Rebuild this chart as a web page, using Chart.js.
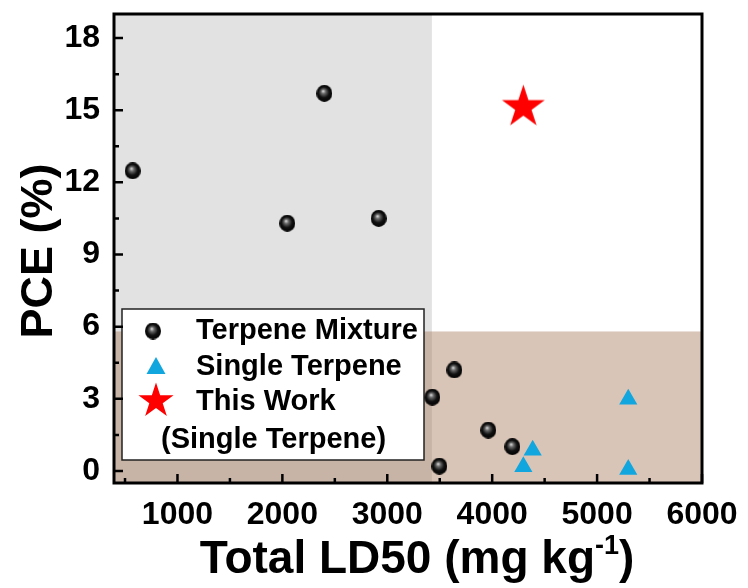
<!DOCTYPE html>
<html>
<head>
<meta charset="utf-8">
<script src="https://cdn.jsdelivr.net/npm/chart.js@4/dist/chart.umd.min.js"></script>
<style>
  body { margin: 0; background: #fff; }
  canvas { display: block; }
</style>
</head>
<body>
<canvas id="pceChart" width="748" height="588"></canvas>
<script>
// values
const mixtureLD50 = [573, 2047, 2400, 2918, 3429, 3639, 3496, 3963, 4192];
const mixturePCE = [12.48, 10.30, 15.70, 10.50, 3.07, 4.20, 0.20, 1.70, 1.01];
const singleLD50 = [5297, 5297, 4386, 4297];
const singlePCE = [2.98, 0.06, 0.86, 0.18];
const thisWorkLD50 = [4297];
const thisWorkPCE = [15.13];

const xTicks = [1000, 2000, 3000, 4000, 5000, 6000];
const yTicks = [0, 3, 6, 9, 12, 15, 18];
const xRange = [395, 6000];
const yRange = [-0.5, 19];

// shaded zones
const grayZoneMaxLD50 = 3425;
const brownZoneMaxPCE = 5.8;

const FONT = '"Liberation Sans", Arial, sans-serif';

// black shiny ball marker
function makeSphere(w, h) {
    const c = document.createElement("canvas");
    c.width = w; c.height = h;
    const g = c.getContext("2d");
    const grad = g.createRadialGradient(w * 0.42, h * 0.36, 0, w * 0.5, h * 0.5, w * 0.55);
    grad.addColorStop(0, "#e8e8e8");
    grad.addColorStop(0.25, "#6a6a6a");
    grad.addColorStop(0.6, "#111");
    grad.addColorStop(1, "#000");
    g.fillStyle = grad;
    g.beginPath();
    g.ellipse(w / 2, h / 2, w / 2, h / 2, 0, 0, Math.PI * 2);
    g.fill();
    return c;
}

function starPath(g, cx, cy, R) {
    const r = R * 0.382;
    g.beginPath();
    for (let i = 0; i < 10; i++) {
        const rad = (i % 2 === 0) ? R : r;
        const ang = -Math.PI / 2 + i * Math.PI / 5;
        const px = cx + rad * Math.cos(ang), py = cy + rad * Math.sin(ang);
        if (i === 0) g.moveTo(px, py); else g.lineTo(px, py);
    }
    g.closePath();
}

function makeStar(R) {
    const s = Math.ceil(R * 2 + 2);
    const c = document.createElement("canvas");
    c.width = s; c.height = s;
    const g = c.getContext("2d");
    g.fillStyle = "#ff0000";
    starPath(g, s / 2, s / 2, R);
    g.fill();
    return c;
}

const sphere = makeSphere(16, 17);
const bigStar = makeStar(22.5);
const TRI_COLOR = "#12a6df";

const toPoints = (xs, ys) => xs.map((v, i) => ({ x: v, y: ys[i] }));

// shaded background zones
const zonesPlugin = {
    id: "zones",
    beforeDatasetsDraw(chart) {
        const { ctx, chartArea: a, scales: { x, y } } = chart;
        ctx.save();
        ctx.fillStyle = "#e2e2e2";
        const gx = x.getPixelForValue(grayZoneMaxLD50);
        ctx.fillRect(a.left, a.top, gx - a.left, a.bottom - a.top);
        ctx.fillStyle = "rgba(163, 113, 79, 0.41)";
        const by = y.getPixelForValue(brownZoneMaxPCE);
        ctx.fillRect(a.left, by, a.right - a.left, a.bottom - by);
        ctx.restore();
    }
};

// frame, inward ticks, titles and legend box
const decorPlugin = {
    id: "decor",
    afterDraw(chart) {
        const { ctx, chartArea: a, scales: { x, y } } = chart;
        ctx.save();

        // legend
        ctx.fillStyle = "#fff";
        ctx.fillRect(122, 309, 302, 151);
        ctx.strokeStyle = "#222";
        ctx.lineWidth = 1.5;
        ctx.strokeRect(122, 309, 302, 151);
        ctx.drawImage(sphere, 153 - 8, 331 - 8.5);
        ctx.fillStyle = TRI_COLOR;
        ctx.beginPath();
        ctx.moveTo(156, 357);
        ctx.lineTo(165.5, 374);
        ctx.lineTo(146.5, 374);
        ctx.closePath();
        ctx.fill();
        ctx.fillStyle = "#ff0000";
        starPath(ctx, 156, 401, 18.5);
        ctx.fill();
        ctx.fillStyle = "#000";
        ctx.font = "bold 29px " + FONT;
        ctx.textBaseline = "middle";
        ctx.textAlign = "left";
        ctx.fillText("Terpene Mixture", 196, 331);
        ctx.fillText("Single Terpene", 196, 367);
        ctx.fillText("This Work", 196, 402);
        ctx.fillText("(Single Terpene)", 161, 440);

        // ticks pointing inward
        ctx.strokeStyle = "#000";
        ctx.lineWidth = 2.5;
        ctx.beginPath();
        yTicks.forEach(v => {
            const py = y.getPixelForValue(v);
            ctx.moveTo(a.left, py); ctx.lineTo(a.left + 9, py);
            const mv = v + 1.5;
            if (mv < yRange[1]) {
                const my = y.getPixelForValue(mv);
                ctx.moveTo(a.left, my); ctx.lineTo(a.left + 5, my);
            }
        });
        for (let v = 500; v <= 6000; v += 500) {
            const px = x.getPixelForValue(v);
            const len = v % 1000 === 0 ? 9 : 5;
            ctx.moveTo(px, a.bottom); ctx.lineTo(px, a.bottom - len);
        }
        ctx.stroke();

        // frame
        ctx.lineWidth = 3;
        ctx.strokeRect(a.left, a.top, a.right - a.left, a.bottom - a.top);

        // axis titles
        ctx.fillStyle = "#000";
        ctx.font = "bold 45px " + FONT;
        ctx.textAlign = "center";
        ctx.textBaseline = "middle";
        ctx.save();
        ctx.translate(40, 251);
        ctx.rotate(-Math.PI / 2);
        ctx.fillText("PCE (%)", 0, 0);
        ctx.restore();

        const t1 = "Total LD50 (mg kg", sup = "-1", t2 = ")";
        ctx.textBaseline = "alphabetic";
        ctx.textAlign = "left";
        ctx.font = "bold 46px " + FONT;
        const w1 = ctx.measureText(t1).width, w3 = ctx.measureText(t2).width;
        ctx.font = "bold 27px " + FONT;
        const w2 = ctx.measureText(sup).width;
        let sx = 417 - (w1 + w2 + w3) / 2;
        const base = 573;
        ctx.font = "bold 46px " + FONT;
        ctx.fillText(t1, sx, base);
        ctx.font = "bold 27px " + FONT;
        ctx.fillText(sup, sx + w1, base - 19);
        ctx.font = "bold 46px " + FONT;
        ctx.fillText(t2, sx + w1 + w2, base);

        ctx.restore();
    }
};

new Chart(document.getElementById("pceChart"), {
    type: "scatter",
    data: {
        datasets: [
            {
                label: "Terpene Mixture",
                data: toPoints(mixtureLD50, mixturePCE),
                pointStyle: sphere
            },
            {
                label: "Single Terpene",
                data: toPoints(singleLD50, singlePCE),
                pointStyle: "triangle",
                pointRadius: 10.5,
                backgroundColor: TRI_COLOR,
                borderWidth: 0
            },
            {
                label: "This Work",
                data: toPoints(thisWorkLD50, thisWorkPCE),
                pointStyle: bigStar
            }
        ]
    },
    options: {
        responsive: false,
        animation: false,
        layout: { padding: { top: 14, right: 46, left: 0, bottom: 0 } },
        plugins: {
            legend: { display: false },
            tooltip: { enabled: false }
        },
        scales: {
            x: {
                type: "linear",
                min: xRange[0],
                max: xRange[1],
                afterBuildTicks: axis => { axis.ticks = xTicks.map(v => ({ value: v })); },
                afterFit: axis => {
                    axis.height = 105;
                    axis.paddingLeft = 0;
                    axis.paddingRight = 0;
                },
                grid: { display: false, drawTicks: false },
                border: { display: false },
                ticks: {
                    color: "#000",
                    padding: 13,
                    maxRotation: 0,
                    callback: v => String(v),
                    font: { family: FONT, size: 32, weight: "bold" }
                }
            },
            y: {
                type: "linear",
                min: yRange[0],
                max: yRange[1],
                afterBuildTicks: axis => { axis.ticks = yTicks.map(v => ({ value: v })); },
                afterFit: axis => {
                    axis.width = 114;
                    axis.paddingTop = 0;
                    axis.paddingBottom = 0;
                },
                grid: { display: false, drawTicks: false },
                border: { display: false },
                ticks: {
                    color: "#000",
                    padding: 14,
                    callback: v => String(v),
                    font: { family: FONT, size: 32, weight: "bold" }
                }
            }
        }
    },
    plugins: [zonesPlugin, decorPlugin]
});
</script>
</body>
</html>
